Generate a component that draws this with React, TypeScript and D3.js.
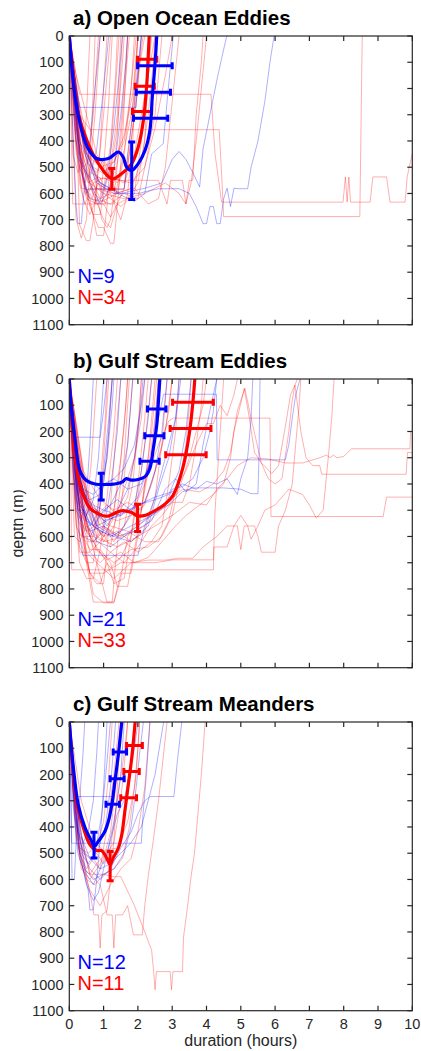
import React from "react";
import * as d3 from "d3";

// ---- layout constants ----
const W = 421;
const H = 1051;
const X0 = 69.3;
const X1 = 412.3;
const PANEL_TOPS = [36, 379, 722];
const PANEL_H = 288.7;

// ---- axis ticks ----
const xTicks = d3.range(0, 11, 1);
const yTicks = d3.range(0, 1101, 100);

const panelTitles = ["a) Open Ocean Eddies", "b) Gulf Stream Eddies", "c) Gulf Stream Meanders"];
const blueCounts = [9, 21, 12];
const redCounts = [34, 33, 11];

// ---- individual dives: flat lists of (hours, depth m) pairs ----
const openRedTraces: number[][] = [
  [0,0, 0.15,300, 0.3,560, 0.45,640, 0.6,600, 0.75,640, 0.9,420, 1.0,200, 1.1,0],
  [0,0, 0.1,250, 0.25,500, 0.3,720, 0.5,780, 0.6,780, 0.7,700, 0.85,500, 1.0,300, 1.2,0],
  [0,0, 0.2,350, 0.4,560, 0.6,620, 0.8,760, 1.0,760, 1.1,650, 1.2,450, 1.35,200, 1.45,0],
  [0,0, 0.25,400, 0.5,600, 0.7,680, 0.9,680, 1.0,600, 1.2,500, 1.4,300, 1.5,0],
  [0,0, 0.3,450, 0.6,650, 0.85,730, 1.0,730, 1.2,790, 1.3,790, 1.4,650, 1.55,400, 1.7,0],
  [0,0, 0.2,300, 0.45,520, 0.7,560, 1.0,540, 1.3,560, 1.5,400, 1.65,150, 1.75,0],
  [0,0, 0.35,500, 0.5,620, 0.8,640, 1.1,620, 1.4,600, 1.6,450, 1.8,200, 1.9,0],
  [0,0, 0.4,480, 0.7,600, 1.0,700, 1.2,730, 1.4,640, 1.6,580, 1.8,350, 2.0,0],
  [0,0, 0.1,200, 0.2,450, 0.4,500, 0.55,480, 0.7,300, 0.8,100, 0.85,0],
  [0,0, 0.15,350, 0.35,580, 0.55,585, 1.0,585, 1.6,585, 1.8,400, 2.0,200, 2.1,0],
  [0,0, 0.05,300, 0.1,640, 0.6,640, 1.3,640, 1.5,500, 1.8,300, 2.2,0],
  [0,0, 0.3,400, 0.6,560, 1.0,600, 1.5,650, 1.9,600, 2.1,400, 2.3,150, 2.4,0],
  [0,0, 0.2,150, 0.5,300, 0.8,450, 1.1,520, 1.4,560, 1.7,500, 1.9,300, 2.05,100, 2.15,0],
  [0,0, 0.25,300, 0.5,450, 0.9,500, 1.3,480, 1.6,400, 1.8,200, 1.95,0],
  [0,0, 0.15,200, 0.4,400, 0.7,600, 0.9,620, 1.2,600, 1.5,700, 1.7,600, 1.85,400, 2.0,0],
  [0,0, 0.3,350, 0.6,520, 0.9,540, 1.1,600, 1.3,540, 1.6,560, 1.9,450, 2.1,300, 2.3,150, 2.5,0],
  [0,0, 0.2,400, 0.4,620, 0.6,680, 0.8,620, 1.2,640, 1.6,600, 2.0,620, 2.2,500, 2.5,300, 2.7,0],
  [0,0, 0.2,150, 0.3,222, 4.13,222, 4.25,450, 4.44,633, 7.98,633, 8.05,537, 8.1,633, 8.15,537, 8.2,633, 8.77,633, 8.85,537, 9.25,537, 9.35,633, 9.79,633, 9.85,537, 10,447],
  [0,0, 0.3,300, 0.6,357, 4.37,357, 4.45,550, 4.5,688, 8.47,688, 8.54,0],
  [0,0, 0.4,400, 0.8,540, 1.5,550, 2.6,550, 2.85,640, 2.95,550, 3.3,550, 3.4,640, 3.5,550, 3.6,550, 3.7,300, 3.85,100, 3.9,0],
  [0,0, 0.3,300, 0.7,500, 1.2,540, 1.8,560, 2.2,500, 2.5,350, 2.8,150, 3.0,0],
  [0,0, 0.2,250, 0.5,480, 0.8,520, 1.0,470, 1.2,520, 1.4,350, 1.55,100, 1.6,0],
  [0,0, 0.2,300, 0.4,550, 0.55,600, 0.7,560, 0.9,620, 1.0,500, 1.15,250, 1.25,0],
  [0,0, 0.1,350, 0.2,700, 0.35,770, 0.5,700, 0.6,500, 0.7,200, 0.75,0],
  [0,0, 0.05,200, 0.1,450, 0.25,520, 0.4,480, 0.5,300, 0.6,0],
  [0,0, 0.3,420, 0.55,520, 0.75,580, 0.95,700, 1.1,730, 1.2,700, 1.35,560, 1.5,350, 1.65,100, 1.7,0],
  [0,0, 0.25,380, 0.45,600, 0.65,620, 0.85,560, 1.05,640, 1.25,560, 1.4,380, 1.55,0],
  [0,0, 0.35,380, 0.7,460, 1.0,520, 1.3,480, 1.6,380, 1.85,220, 2.0,0],
  [0,0, 0.2,200, 0.6,440, 1.0,480, 1.4,600, 1.8,580, 2.1,480, 2.3,300, 2.45,100, 2.5,0],
  [0,0, 0.4,500, 0.8,640, 1.0,640, 1.2,690, 1.4,640, 1.7,620, 2.0,560, 2.2,400, 2.35,0],
  [0,0, 0.15,250, 0.35,480, 0.55,560, 0.8,540, 1.0,580, 1.2,420, 1.35,150, 1.4,0],
  [0,0, 0.1,100, 0.2,300, 0.3,500, 0.45,560, 0.6,520, 0.75,300, 0.9,0],
  [0,0, 0.3,300, 0.8,580, 1.3,600, 1.9,580, 2.3,640, 2.6,620, 2.8,500, 3.0,250, 3.2,0],
  [0,0, 0.5,450, 1.0,600, 1.6,620, 2.2,600, 2.8,560, 3.2,600, 3.4,640, 3.55,560, 3.7,400, 3.85,200, 4.0,0],
];

const openBlueTraces: number[][] = [
  [0,0, 0.1,350, 0.2,650, 0.25,715, 0.35,715, 0.45,560, 0.6,400, 0.75,200, 0.9,0],
  [0,0, 0.3,272, 1.95,272, 2.0,150, 2.1,0],
  [0,0, 0.2,400, 0.5,600, 0.55,582, 1.6,582, 1.7,450, 1.9,250, 2.1,0],
  [0,0, 0.3,450, 0.6,560, 0.9,640, 1.1,600, 1.3,520, 1.5,300, 1.65,100, 1.7,0],
  [0,0, 0.2,350, 0.4,500, 0.6,540, 0.8,430, 1.0,200, 1.15,0],
  [0,0, 0.4,400, 0.8,550, 1.4,600, 1.9,630, 2.2,600, 2.4,450, 2.74,410, 2.85,250, 3.03,0],
  [0,0, 0.4,420, 0.9,560, 1.5,600, 2.2,580, 2.7,560, 3.0,470, 3.2,440, 3.4,470, 3.6,520, 3.8,575, 3.9,430, 4.1,300, 4.3,170, 4.45,80, 4.59,0],
  [0,0, 0.3,400, 0.8,560, 1.3,600, 2.0,600, 2.6,582, 3.2,582, 3.5,600, 3.7,650, 3.9,715, 4.0,715, 4.1,650, 4.2,650, 4.3,715, 4.4,715, 4.5,620, 4.6,580, 4.7,650, 4.8,580, 4.95,582, 5.2,582, 5.3,500, 5.5,400, 5.7,250, 5.85,100, 5.97,0],
  [0,0, 0.3,500, 0.6,620, 0.9,630, 1.1,540, 1.3,350, 1.45,150, 1.55,0],
];

const gulfRedTraces: number[][] = [
  [0,0, 0.1,300, 0.2,560, 0.35,600, 0.5,520, 0.65,300, 0.8,0],
  [0,0, 0.15,350, 0.3,640, 0.5,700, 0.7,700, 0.85,550, 1.0,300, 1.15,0],
  [0,0, 0.2,400, 0.4,620, 0.6,740, 0.8,780, 1.0,780, 1.1,650, 1.25,400, 1.4,150, 1.5,0],
  [0,0, 0.25,450, 0.5,700, 0.7,850, 1.0,850, 1.25,850, 1.35,700, 1.5,500, 1.7,250, 1.85,0],
  [0,0, 0.3,500, 0.6,740, 0.9,780, 1.1,700, 1.3,780, 1.6,760, 1.8,600, 2.0,400, 2.2,150, 2.3,0],
  [0,0, 0.1,250, 0.25,500, 0.45,540, 0.6,480, 0.75,560, 0.9,400, 1.05,150, 1.1,0],
  [0,0, 0.2,350, 0.45,560, 0.7,620, 0.95,580, 1.2,640, 1.4,500, 1.6,300, 1.75,0],
  [0,0, 0.3,420, 0.6,600, 0.9,660, 1.2,720, 1.5,680, 1.8,600, 2.0,450, 2.2,250, 2.4,0],
  [0,0, 0.15,300, 0.4,600, 0.6,650, 0.9,650, 1.2,700, 1.4,790, 1.7,790, 1.9,650, 2.1,500, 2.3,300, 2.5,0],
  [0,0, 0.35,450, 0.7,560, 1.0,600, 1.4,580, 1.8,620, 2.2,580, 2.5,450, 2.7,250, 2.85,0],
  [0,0, 0.05,400, 0.07,727, 4.2,727, 4.22,640, 4.6,640, 4.8,560, 5.0,520, 5.2,560, 5.3,610, 5.5,560, 5.7,500, 6.0,480, 6.4,420, 6.8,440, 7.0,480, 7.2,530, 7.4,500, 7.55,300, 7.65,150, 7.72,0],
  [0,0, 0.2,400, 0.5,660, 0.8,700, 1.1,850, 1.3,850, 1.5,740, 1.8,740, 2.0,600, 2.2,400, 2.4,200, 2.55,0],
  [0,0, 0.3,300, 0.6,480, 1.0,520, 1.4,540, 1.8,520, 2.2,480, 2.5,350, 2.8,200, 3.0,0],
  [0,0, 0.25,380, 0.55,620, 0.85,620, 1.2,660, 1.6,620, 2.0,660, 2.4,620, 2.7,560, 2.9,400, 3.1,200, 3.2,0],
  [0,0, 0.4,500, 0.8,650, 1.3,700, 1.8,650, 2.3,640, 2.7,600, 3.0,520, 3.2,400, 3.4,250, 3.5,100, 3.55,0],
  [0,0, 0.2,250, 0.5,450, 0.8,520, 1.1,480, 1.4,520, 1.7,450, 1.9,300, 2.05,120, 2.1,0],
  [0,0, 0.3,600, 0.6,740, 1.0,740, 1.5,700, 2.0,700, 2.5,700, 3.03,689, 4.2,689, 4.25,500, 4.35,300, 4.45,100, 4.5,0],
  [0,0, 0.15,450, 0.3,700, 0.5,760, 0.7,760, 0.9,650, 1.1,450, 1.3,200, 1.4,0],
  [0,0, 0.2,500, 0.4,600, 0.7,600, 1.0,620, 1.3,560, 1.6,420, 1.9,300, 2.1,150, 2.2,0],
  [0,0, 0.5,420, 1.0,560, 1.5,600, 2.0,560, 2.5,500, 2.9,480, 3.2,420, 3.5,300, 3.7,200, 3.9,100, 4.0,0],
  [0,0, 0.3,500, 0.6,660, 0.9,700, 1.2,660, 1.6,700, 2.0,640, 2.4,560, 2.7,520, 3.0,470, 3.3,470, 3.5,400, 3.7,250, 3.85,100, 3.9,0],
  [0,0, 0.4,600, 0.7,820, 1.0,853, 1.3,853, 1.5,760, 1.7,600, 1.9,560, 2.1,500, 2.3,350, 2.5,150, 2.6,0],
  [0,0, 0.2,550, 0.3,660, 0.6,660, 0.9,620, 1.1,580, 1.3,500, 1.5,300, 1.65,100, 1.7,0],
  [0,0, 0.1,400, 0.15,600, 0.3,620, 0.5,560, 0.7,600, 0.9,480, 1.1,300, 1.25,0],
  [0,0, 0.3,350, 0.7,500, 1.2,560, 1.7,580, 2.2,620, 2.6,620, 2.9,540, 3.1,420, 3.4,350, 3.7,250, 4.0,170, 4.2,170, 4.4,100, 4.6,140, 4.8,60, 4.9,0],
  [0,0, 0.35,480, 0.7,640, 1.1,690, 1.5,660, 1.9,700, 2.3,680, 2.7,620, 3.1,560, 3.4,520, 3.8,480, 4.2,440, 4.5,400, 4.7,300, 4.8,200, 4.95,120, 5.1,36, 5.25,150, 5.4,280, 5.6,320, 5.8,380, 6.0,400, 6.2,380, 6.4,200, 6.5,80, 6.58,23, 6.65,0],
  [0,0, 0.2,300, 0.5,560, 0.8,600, 1.0,560, 1.3,620, 1.6,560, 1.85,400, 2.0,200, 2.1,0],
  [0,0, 0.25,420, 0.5,580, 0.75,560, 1.0,600, 1.25,540, 1.45,380, 1.6,180, 1.7,0],
  [0,0, 0.4,350, 0.9,460, 1.3,500, 1.7,470, 2.1,500, 2.4,400, 2.7,260, 2.9,120, 3.0,0],
  [0,0, 0.4,420, 0.8,600, 1.4,640, 2.0,600, 2.5,560, 3.0,520, 3.5,470, 4.0,480, 4.3,420, 4.6,380, 4.9,330, 5.3,300, 5.8,305, 6.3,320, 6.8,320, 7.3,300, 7.5,290, 7.6,300, 7.7,290, 7.8,300, 8.0,295, 8.23,266, 9.93,266, 9.95,200, 10,200],
  [0,0, 0.5,450, 1.0,620, 1.6,600, 2.2,560, 2.8,480, 3.3,420, 3.8,430, 4.2,400, 4.5,350, 4.7,280, 4.9,120, 5.12,36, 5.3,150, 5.6,320, 5.9,360, 6.1,330, 6.3,180, 6.45,60, 6.58,23, 6.75,200, 6.9,300, 7.1,330, 7.3,330, 7.36,363, 9.82,363, 9.86,280, 10,280],
  [0,0, 0.4,400, 0.9,560, 1.4,600, 1.8,520, 2.2,400, 2.6,250, 2.9,160, 3.03,149, 5.85,149, 5.88,524, 9.15,524, 9.25,450, 10,450],
  [0,0, 0.4,500, 0.8,700, 1.3,760, 1.8,700, 2.3,690, 2.8,690, 3.2,683, 3.6,683, 3.9,640, 4.3,600, 4.6,560, 4.9,560, 5.0,650, 5.1,560, 5.4,560, 5.5,600, 5.6,660, 6.0,660, 6.1,560, 6.3,500, 6.5,400, 6.6,250, 6.7,100, 6.75,0],
];

const gulfBlueTraces: number[][] = [
  [0,0, 0.1,300, 0.2,500, 0.35,540, 0.5,450, 0.6,250, 0.7,0],
  [0,0, 0.15,350, 0.3,480, 0.5,520, 0.7,460, 0.85,300, 1.0,0],
  [0,0, 0.2,400, 0.4,560, 0.6,600, 0.8,560, 1.0,400, 1.15,200, 1.25,0],
  [0,0, 0.1,200, 0.3,420, 0.6,460, 0.9,440, 1.1,300, 1.25,100, 1.3,0],
  [0,0, 0.2,450, 0.4,600, 0.7,620, 1.0,580, 1.2,420, 1.4,200, 1.5,0],
  [0,0, 0.07,222, 0.9,222, 1.0,120, 1.1,0],
  [0,0, 0.3,380, 0.6,500, 0.9,520, 1.2,480, 1.5,400, 1.7,250, 1.85,0],
  [0,0, 0.3,600, 0.4,672, 2.0,672, 2.2,560, 2.5,450, 2.8,300, 3.1,150, 3.25,0],
  [0,0, 0.25,350, 0.5,460, 0.8,500, 1.1,560, 1.4,500, 1.7,420, 1.9,300, 2.05,150, 2.15,0],
  [0,0, 0.2,380, 0.5,540, 0.9,580, 1.3,600, 1.6,560, 1.9,480, 2.1,350, 2.3,150, 2.4,0],
  [0,0, 0.3,430, 0.7,480, 1.0,500, 1.4,460, 1.8,500, 2.2,470, 2.5,350, 2.7,200, 2.85,0],
  [0,0, 0.35,400, 0.8,560, 1.3,600, 1.8,620, 2.3,560, 2.6,420, 2.9,300, 3.1,150, 3.2,0],
  [0,0, 0.2,330, 0.5,380, 0.9,420, 1.3,380, 1.7,420, 2.1,400, 2.4,300, 2.55,100, 2.6,0],
  [0,0, 0.3,500, 0.7,560, 1.0,500, 1.5,520, 2.0,480, 2.5,460, 2.9,440, 3.2,350, 3.4,200, 3.55,0],
  [0,0, 0.25,440, 0.6,580, 1.0,560, 1.4,600, 1.9,580, 2.4,540, 2.8,420, 3.1,380, 3.4,430, 3.7,400, 3.9,250, 4.1,120, 4.3,0],
  [0,0, 0.15,300, 0.4,420, 0.7,440, 1.0,400, 1.3,380, 1.6,340, 1.9,250, 2.1,100, 2.2,0],
  [0,0, 0.1,350, 0.25,500, 0.45,500, 0.6,560, 0.8,520, 1.0,350, 1.15,150, 1.25,0],
  [0,0, 0.4,480, 0.8,620, 1.2,640, 1.6,600, 2.0,560, 2.4,520, 2.8,480, 3.0,420, 3.3,410, 3.6,380, 3.9,300, 4.1,200, 4.2,120, 4.3,0],
  [0,0, 0.2,300, 0.5,480, 1.0,540, 1.5,520, 2.0,450, 2.4,300, 2.6,150, 2.75,58, 4.29,58, 4.31,308, 6.3,308, 6.4,250, 6.5,150, 6.6,60, 6.73,0],
  [0,0, 0.3,400, 0.7,560, 1.2,600, 1.8,560, 2.4,520, 2.9,480, 3.3,430, 3.6,415, 4.5,415, 5.0,420, 5.3,437, 5.5,437, 5.53,300, 5.56,0],
  [0,0, 0.3,420, 0.8,560, 1.4,520, 2.0,480, 2.5,450, 3.0,430, 3.3,400, 3.7,420, 4.0,390, 4.3,400, 4.6,380, 4.9,440, 5.0,380, 5.2,300, 5.3,150, 5.35,0],
];

const meanderRedTraces: number[][] = [
  [0,0, 0.2,300, 0.4,480, 0.6,580, 1.0,580, 1.3,590, 1.5,589, 1.9,700, 2.2,800, 2.4,870, 2.46,951, 2.5,1020, 2.54,951, 2.94,951, 2.98,1020, 3.02,951, 3.3,951, 3.33,820, 3.45,700, 3.55,589, 3.65,500, 3.75,350, 3.85,200, 3.96,0],
  [0,0, 0.2,350, 0.45,560, 0.6,650, 0.72,735, 0.85,735, 0.9,861, 0.95,735, 1.1,720, 1.2,600, 1.3,450, 1.4,250, 1.5,0],
  [0,0, 0.3,400, 0.6,580, 0.9,620, 1.1,735, 1.25,735, 1.3,861, 1.35,735, 1.55,735, 1.7,700, 1.87,811, 2.13,811, 2.2,700, 2.3,589, 2.45,450, 2.6,300, 2.75,120, 2.85,0],
  [0,0, 0.15,300, 0.3,500, 0.5,560, 0.7,520, 0.9,560, 1.1,400, 1.3,200, 1.45,0],
  [0,0, 0.2,380, 0.4,500, 0.6,520, 0.8,500, 1.0,540, 1.2,480, 1.4,300, 1.6,120, 1.7,0],
  [0,0, 0.25,450, 0.5,600, 0.75,620, 1.0,580, 1.3,560, 1.55,520, 1.75,400, 1.95,200, 2.05,0],
  [0,0, 0.1,250, 0.3,480, 0.55,500, 0.8,470, 1.0,380, 1.15,200, 1.25,0],
  [0,0, 0.3,520, 0.6,640, 0.9,700, 1.2,620, 1.5,560, 1.8,520, 2.0,420, 2.2,250, 2.35,0],
  [0,0, 0.2,420, 0.4,560, 0.6,580, 0.8,540, 1.1,500, 1.3,460, 1.5,300, 1.65,100, 1.7,0],
  [0,0, 0.35,300, 0.7,450, 1.0,490, 1.4,480, 1.7,380, 1.9,250, 2.0,100, 2.05,0],
  [0,0, 0.15,350, 0.35,560, 0.6,600, 0.8,560, 1.0,520, 1.2,420, 1.35,250, 1.5,0],
];

const meanderBlueTraces: number[][] = [
  [0,0, 0.05,300, 0.08,600, 0.15,600, 0.2,450, 0.3,300, 0.4,120, 0.45,0],
  [0,0, 0.1,300, 0.25,500, 0.4,560, 0.55,640, 0.6,716, 0.7,716, 0.8,600, 0.9,450, 1.0,250, 1.1,0],
  [0,0, 0.05,300, 0.07,462, 2.1,462, 2.15,350, 2.25,200, 2.35,0],
  [0,0, 0.3,450, 0.6,560, 0.9,600, 1.2,560, 1.5,480, 1.8,420, 2.0,350, 2.2,300, 2.36,284, 3.05,284, 3.15,150, 3.28,0],
  [0,0, 0.2,284, 1.3,284, 1.4,150, 1.5,0],
  [0,0, 0.15,350, 0.35,500, 0.55,540, 0.75,500, 0.95,350, 1.1,150, 1.2,0],
  [0,0, 0.25,400, 0.5,580, 0.7,620, 0.9,560, 1.1,500, 1.3,380, 1.5,200, 1.6,0],
  [0,0, 0.2,450, 0.45,560, 0.7,600, 1.0,580, 1.3,560, 1.6,500, 1.8,400, 1.95,250, 2.05,120, 2.16,0],
  [0,0, 0.3,420, 0.6,520, 0.9,560, 1.2,540, 1.5,500, 1.8,460, 2.1,400, 2.3,300, 2.5,200, 2.65,80, 2.75,0],
  [0,0, 0.1,250, 0.25,420, 0.4,460, 0.55,420, 0.7,300, 0.8,120, 0.85,0],
  [0,0, 0.2,300, 0.45,500, 0.65,520, 0.85,480, 1.05,400, 1.2,250, 1.35,0],
  [0,0, 0.3,500, 0.5,620, 0.7,680, 0.85,650, 1.0,560, 1.2,450, 1.4,350, 1.6,300, 1.75,200, 1.9,100, 2.0,0],
];

// ---- mean profiles (hours, depth) ----
const openRedMeanT = [0, 0.1, 0.26, 0.55, 0.85, 1.24, 1.53, 1.82, 2.01, 2.16, 2.26, 2.3, 2.33];
const openRedMeanD = [0, 130, 295, 410, 486, 544, 524, 486, 423, 321, 181, 79, 0];
const openBlueMeanT = [0, 0.17, 0.36, 0.55, 0.8, 1.14, 1.43, 1.57, 1.67, 1.82, 2.01, 2.21, 2.35, 2.42, 2.5, 2.55];
const openBlueMeanD = [0, 232, 359, 429, 467, 467, 442, 461, 499, 512, 486, 435, 359, 232, 105, 0];

const gulfRedMeanT = [0, 0.05, 0.17, 0.36, 0.6, 0.85, 1.1, 1.3, 1.53, 1.8, 2.0, 2.25, 2.45, 2.74, 3.03, 3.32, 3.5, 3.6, 3.66];
const gulfRedMeanD = [0, 110, 302, 425, 492, 514, 523, 513, 502, 508, 522, 518, 505, 482, 442, 334, 207, 93, 0];
const gulfBlueMeanT = [0, 0.05, 0.17, 0.31, 0.51, 0.75, 1.05, 1.33, 1.55, 1.65, 1.8, 2.0, 2.21, 2.35, 2.45, 2.55, 2.61, 2.64];
const gulfBlueMeanD = [0, 100, 236, 350, 388, 400, 402, 400, 392, 380, 385, 383, 372, 340, 264, 175, 61, 0];

const meanderRedMeanT = [0, 0.05, 0.21, 0.41, 0.6, 0.8, 0.94, 1.09, 1.19, 1.28, 1.43, 1.53, 1.62, 1.72, 1.82, 1.92];
const meanderRedMeanD = [0, 90, 302, 403, 467, 490, 490, 518, 543, 518, 480, 429, 340, 239, 137, 0];
const meanderBlueMeanT = [0, 0.05, 0.12, 0.26, 0.46, 0.65, 0.73, 0.85, 1.04, 1.14, 1.24, 1.33, 1.43, 1.53];
const meanderBlueMeanD = [0, 80, 175, 315, 403, 454, 473, 454, 416, 378, 315, 226, 124, 0];

// ---- error bars: horizontal [depth, tLow, tHigh], vertical [t, dLow, dHigh] ----
const openRedHBars = [[89, 1.99, 2.55], [191, 1.92, 2.48], [288, 1.84, 2.4]];
const openRedVBar = [1.24, 505, 584];
const openBlueHBars = [[113, 1.99, 3.0], [214, 1.95, 2.95], [313, 1.87, 2.87]];
const openBlueVBar = [1.82, 404, 623];

const gulfRedHBars = [[89, 3.01, 4.2], [189, 2.94, 4.13], [289, 2.81, 3.99]];
const gulfRedVBar = [1.99, 477, 581];
const gulfBlueHBars = [[114, 2.28, 2.82], [216, 2.2, 2.76], [313, 2.06, 2.62]];
const gulfBlueVBar = [0.93, 359, 461];

const meanderRedHBars = [[90, 1.67, 2.13], [189, 1.59, 2.04], [289, 1.5, 1.96]];
const meanderRedVBar = [1.19, 493, 605];
const meanderBlueHBars = [[114, 1.28, 1.67], [216, 1.19, 1.6], [313, 1.07, 1.46]];
const meanderBlueVBar = [0.72, 420, 518];

type PanelData = {
  title: string;
  nBlue: number;
  nRed: number;
  red: number[][];
  blue: number[][];
  redMean: [number[], number[]];
  blueMean: [number[], number[]];
  redH: number[][];
  redV: number[];
  blueH: number[][];
  blueV: number[];
};

const panels: PanelData[] = [
  {
    title: panelTitles[0], nBlue: blueCounts[0], nRed: redCounts[0],
    red: openRedTraces, blue: openBlueTraces,
    redMean: [openRedMeanT, openRedMeanD], blueMean: [openBlueMeanT, openBlueMeanD],
    redH: openRedHBars, redV: openRedVBar, blueH: openBlueHBars, blueV: openBlueVBar,
  },
  {
    title: panelTitles[1], nBlue: blueCounts[1], nRed: redCounts[1],
    red: gulfRedTraces, blue: gulfBlueTraces,
    redMean: [gulfRedMeanT, gulfRedMeanD], blueMean: [gulfBlueMeanT, gulfBlueMeanD],
    redH: gulfRedHBars, redV: gulfRedVBar, blueH: gulfBlueHBars, blueV: gulfBlueVBar,
  },
  {
    title: panelTitles[2], nBlue: blueCounts[2], nRed: redCounts[2],
    red: meanderRedTraces, blue: meanderBlueTraces,
    redMean: [meanderRedMeanT, meanderRedMeanD], blueMean: [meanderBlueMeanT, meanderBlueMeanD],
    redH: meanderRedHBars, redV: meanderRedVBar, blueH: meanderBlueHBars, blueV: meanderBlueVBar,
  },
];

const FONT = "'Liberation Sans', Arial, Helvetica, sans-serif";
const AXIS = "#262626";
const RED = "#ff0000";
const BLUE = "#0000ff";

const toPairs = (flat: number[]): [number, number][] =>
  d3.range(0, flat.length - 1, 2).map((i) => [flat[i], flat[i + 1]] as [number, number]);

const xScale = d3.scaleLinear().domain([0, 10]).range([X0, X1]);

function ErrorBars({ h, v, color, x, y }: { h: number[][]; v: number[]; color: string; x: d3.ScaleLinear<number, number>; y: d3.ScaleLinear<number, number> }) {
  const cap = 3.5;
  return (
    <g stroke={color} strokeWidth={3} fill="none">
      {h.map(([d, lo, hi], i) => (
        <g key={i}>
          <line x1={x(lo)} x2={x(hi)} y1={y(d)} y2={y(d)} />
          <line x1={x(lo)} x2={x(lo)} y1={y(d) - cap} y2={y(d) + cap} />
          <line x1={x(hi)} x2={x(hi)} y1={y(d) - cap} y2={y(d) + cap} />
        </g>
      ))}
      <line x1={x(v[0])} x2={x(v[0])} y1={y(v[1])} y2={y(v[2])} />
      <line x1={x(v[0]) - cap} x2={x(v[0]) + cap} y1={y(v[1])} y2={y(v[1])} />
      <line x1={x(v[0]) - cap} x2={x(v[0]) + cap} y1={y(v[2])} y2={y(v[2])} />
    </g>
  );
}

function Panel({ p, idx }: { p: PanelData; idx: number }) {
  const top = PANEL_TOPS[idx];
  const bottom = top + PANEL_H;
  const y = d3.scaleLinear().domain([0, 1100]).range([top, bottom]);
  const thin = d3.line<[number, number]>().x((d) => xScale(d[0])).y((d) => y(d[1]));
  const smooth = d3
    .line<[number, number]>()
    .x((d) => xScale(d[0]))
    .y((d) => y(d[1]))
    .curve(d3.curveCatmullRom.alpha(0.5));
  const meanPts = (m: [number[], number[]]) => m[0].map((t, i) => [t, m[1][i]] as [number, number]);
  const clipId = `plotclip${idx}`;
  const tick = 5;
  const isLast = idx === 2;

  return (
    <g>
      <defs>
        <clipPath id={clipId}>
          <rect x={X0} y={top} width={X1 - X0} height={PANEL_H} />
        </clipPath>
      </defs>
      <text x={73} y={top - 11.5} fontFamily={FONT} fontSize={20.5} fontWeight="bold" fill="#000">
        {p.title}
      </text>
      <g clipPath={`url(#${clipId})`}>
        <g fill="none" strokeWidth={0.75} strokeLinejoin="round">
          {p.red.map((tr, i) => (
            <path key={`r${i}`} d={thin(toPairs(tr)) ?? ""} stroke={RED} strokeOpacity={0.42} />
          ))}
          {p.blue.map((tr, i) => (
            <path key={`b${i}`} d={thin(toPairs(tr)) ?? ""} stroke={BLUE} strokeOpacity={0.42} />
          ))}
        </g>
        <path d={smooth(meanPts(p.redMean)) ?? ""} fill="none" stroke={RED} strokeWidth={3.2} />
        <ErrorBars h={p.redH} v={p.redV} color={RED} x={xScale} y={y} />
        <path d={smooth(meanPts(p.blueMean)) ?? ""} fill="none" stroke={BLUE} strokeWidth={3.2} />
        <ErrorBars h={p.blueH} v={p.blueV} color={BLUE} x={xScale} y={y} />
      </g>
      {/* frame and inward ticks on all four sides */}
      <g stroke={AXIS} strokeWidth={1.2} fill="none">
        <rect x={X0} y={top} width={X1 - X0} height={PANEL_H} />
        {yTicks.map((v) => (
          <g key={`yt${v}`}>
            <line x1={X0} x2={X0 + tick} y1={y(v)} y2={y(v)} />
            <line x1={X1} x2={X1 - tick} y1={y(v)} y2={y(v)} />
          </g>
        ))}
        {xTicks.map((v) => (
          <g key={`xt${v}`}>
            <line x1={xScale(v)} x2={xScale(v)} y1={bottom} y2={bottom - tick} />
            <line x1={xScale(v)} x2={xScale(v)} y1={top} y2={top + tick} />
          </g>
        ))}
      </g>
      <g fontFamily={FONT} fontSize={14.5} fill={AXIS} textAnchor="end">
        {yTicks.map((v) => (
          <text key={`yl${v}`} x={63.5} y={y(v)} dy="0.35em">
            {v}
          </text>
        ))}
      </g>
      {isLast && (
        <g fontFamily={FONT} fill={AXIS} textAnchor="middle">
          {xTicks.map((v) => (
            <text key={`xl${v}`} x={xScale(v)} y={bottom + 18.3} fontSize={14.5}>
              {v}
            </text>
          ))}
          <text x={(X0 + X1) / 2} y={bottom + 35.6} fontSize={16}>
            duration (hours)
          </text>
        </g>
      )}
      <text x={77.5} y={top + 246.7} fontFamily={FONT} fontSize={20} fill={BLUE}>
        {`N=${p.nBlue}`}
      </text>
      <text x={77.5} y={top + 268} fontFamily={FONT} fontSize={20} fill={RED}>
        {`N=${p.nRed}`}
      </text>
    </g>
  );
}

export default function App() {
  const midB = PANEL_TOPS[1] + PANEL_H / 2;
  return (
    <svg
      width={W}
      height={H}
      viewBox={`0 0 ${W} ${H}`}
      style={{ position: "absolute", left: 0, top: 0, background: "#fff" }}
    >
      <defs>
        <clipPath id="ylabelclip">
          <rect x={13.5} y={0} width={W} height={H} />
        </clipPath>
      </defs>
      <rect x={0} y={0} width={W} height={H} fill="#fff" />
      {panels.map((p, i) => (
        <Panel key={i} p={p} idx={i} />
      ))}
      <g clipPath="url(#ylabelclip)">
        <text
          x={0}
          y={0}
          transform={`translate(22.7, ${midB}) rotate(-90)`}
          textAnchor="middle"
          fontFamily={FONT}
          fontSize={16}
          fill={AXIS}
        >
          depth (m)
        </text>
      </g>
    </svg>
  );
}
